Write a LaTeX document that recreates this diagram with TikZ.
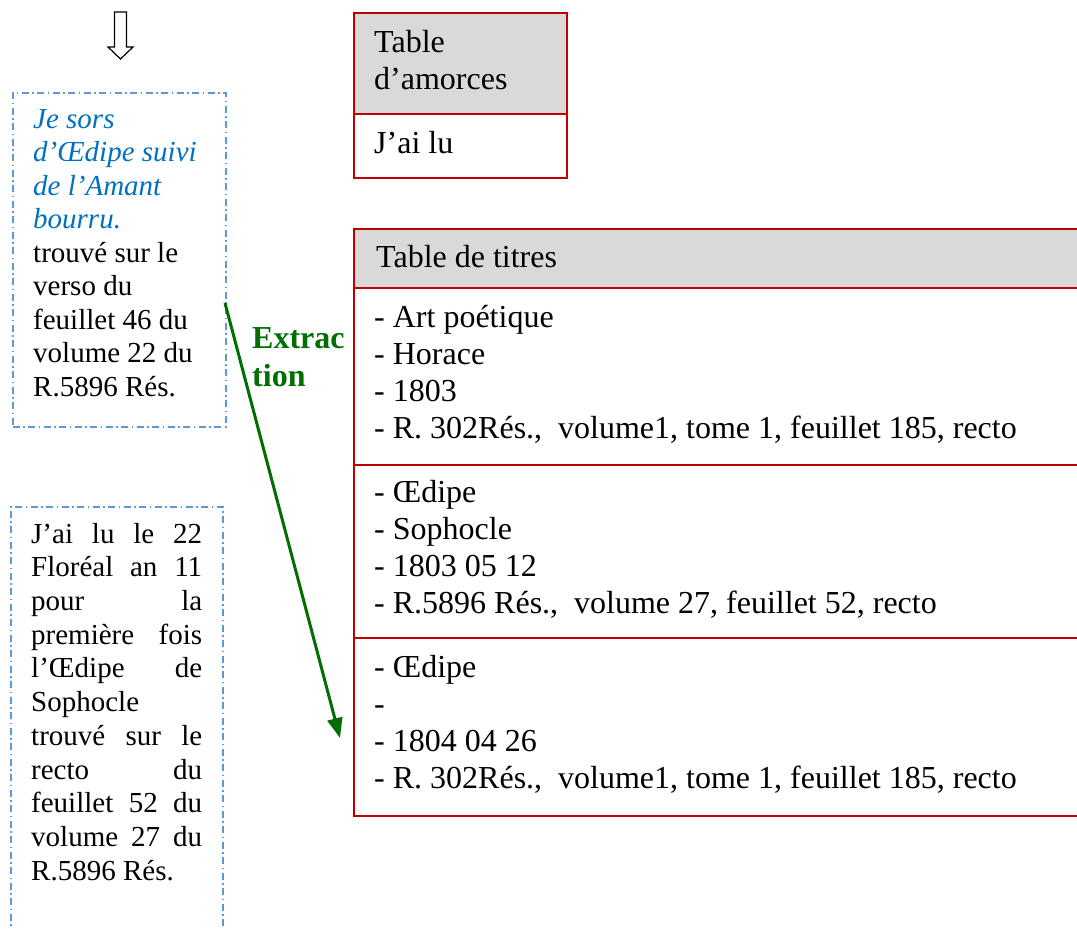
\documentclass[tikz,border=0pt]{standalone}
\usepackage{fontspec}
\setmainfont{Liberation Serif}
\usetikzlibrary{arrows.meta}
\definecolor{redb}{RGB}{192,0,0}
\definecolor{blueb}{RGB}{91,155,213}
\definecolor{bluet}{RGB}{0,112,192}
\definecolor{greent}{RGB}{0,110,0}
\definecolor{grayh}{RGB}{217,217,217}
\setlength\parindent{0pt}
\begin{document}
\begin{tikzpicture}[x=1pt,y=-1pt,
  bluebox/.style={draw=blueb, line width=1.5pt, dash pattern=on 7pt off 3.5pt on 1.5pt off 3.5pt, inner sep=0pt, anchor=north west},
  redbox/.style={draw=redb, line width=2pt, inner sep=0pt, anchor=north west},
  hdrbox/.style={redbox, fill=grayh},
  lefttxt/.style={anchor=north west, inner sep=0pt, align=left, font=\fontsize{29}{33.5}\selectfont},
  tabtxt/.style={anchor=north west, inner sep=0pt, align=left, font=\fontsize{32}{37}\selectfont},
  extxt/.style={anchor=north west, inner sep=0pt, align=left, text=greent, font=\fontsize{32}{38}\selectfont\bfseries},
  exarrow/.style={draw=greent, line width=3pt, -{Triangle[length=20pt,width=15pt]}},
  hollow/.style={draw=black, line width=1.2pt, fill=white, line join=miter}
]
\useasboundingbox (0,0) rectangle (1077,929);
\begin{scope}
\clip (0,0) rectangle (1077,929);

% hollow down arrow
\draw[hollow] (114.5,12) -- (126.5,12) -- (126.5,47) -- (133,47) -- (120.5,59) -- (108,47) -- (114.5,47) -- cycle;

% left boxes
\node[bluebox, minimum width=213pt, minimum height=334pt] (b1) at (12,92) {};
\node[bluebox, minimum width=212pt, minimum height=440pt] (b2) at (10,506) {};

\node[lefttxt] (t1) at (33,104.5) {\strut\textcolor{bluet}{\textit{Je sors}}\\
\textcolor{bluet}{\textit{d’Œdipe suivi}}\\
\textcolor{bluet}{\textit{de l’Amant}}\\
\textcolor{bluet}{\textit{bourru.}}\\
trouvé sur le\\
verso du\\
feuillet 46 du\\
volume 22 du\\
R.5896 Rés.};

\node[lefttxt, font=\fontsize{29}{33.7}\selectfont] (t2) at (31,519.4) {\strut\makebox[171pt][s]{J’ai lu le 22}\\
\makebox[171pt][s]{Floréal an 11}\\
\makebox[171pt][s]{pour \hfill la}\\
\makebox[171pt][s]{première fois}\\
\makebox[171pt][s]{l’Œdipe \hfill de}\\
Sophocle\\
\makebox[171pt][s]{trouvé sur le}\\
\makebox[171pt][s]{recto \hfill du}\\
\makebox[171pt][s]{feuillet 52 du}\\
\makebox[171pt][s]{volume 27 du}\\
R.5896 Rés.};

% Table d'amorces
\node[hdrbox, minimum width=213pt, minimum height=101pt] (ah) at (353,12) {};
\node[redbox, minimum width=213pt, minimum height=64pt] (ab) at (353,113) {};
\node[tabtxt] (aht) at (374,26.1) {\strut Table\\d’amorces};
\node[tabtxt] (abt) at (374,127.1) {\strut J’ai lu};

% Table de titres
\node[hdrbox, minimum width=740pt, minimum height=59pt] (th) at (353,228) {};
\node[redbox, minimum width=740pt, minimum height=177pt] (c1) at (353,287) {};
\node[redbox, minimum width=740pt, minimum height=173pt] (c2) at (353,464) {};
\node[redbox, minimum width=740pt, minimum height=178pt] (c3) at (353,637) {};
\node[tabtxt] (tht) at (376,241.1) {\strut Table de titres};
\node[tabtxt] (c1t) at (374,301.1) {\strut - Art poétique\\- Horace\\- 1803\\- R. 302Rés.,\ \ volume1, tome 1, feuillet 185, recto};
\node[tabtxt] (c2t) at (374,476.1) {\strut - Œdipe\\- Sophocle\\- 1803 05 12\\- R.5896 Rés.,\ \ volume 27, feuillet 52, recto};
\node[tabtxt] (c3t) at (374,651.1) {\strut - Œdipe\\-\\- 1804 04 26\\- R. 302Rés.,\ \ volume1, tome 1, feuillet 185, recto};

% Extraction arrow
\node[extxt] (ex) at (252,321.4) {\strut Extrac\\tion};
\coordinate (exS) at (225,303);
\coordinate (exE) at (340,738);
\draw[exarrow] (exS) -- (exE);
\end{scope}
\end{tikzpicture}
\end{document}
